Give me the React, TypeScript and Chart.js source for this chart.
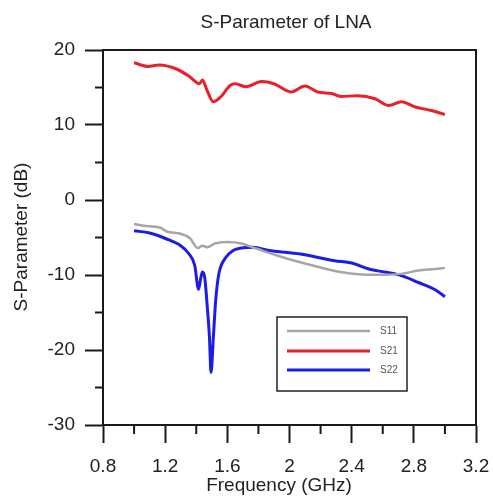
import React, { useEffect, useRef } from "react";
import { Chart, registerables } from "chart.js";

Chart.register(...registerables);

// ---- data ----
const s11Freq = [1.0, 1.05, 1.1, 1.17, 1.21, 1.3, 1.36, 1.41, 1.44, 1.47, 1.52, 1.6, 1.69, 1.79, 1.92, 2.07, 2.2, 2.33, 2.5, 2.61, 2.72, 2.83, 2.94, 3.0];
const s11Db = [-3.2, -3.4, -3.5, -3.7, -4.2, -4.5, -5.1, -6.4, -6.1, -6.3, -5.8, -5.6, -5.8, -6.5, -7.4, -8.3, -9.0, -9.6, -9.95, -9.95, -9.85, -9.4, -9.2, -9.05];

const s21Freq = [1.0, 1.09, 1.16, 1.28, 1.36, 1.42, 1.44, 1.47, 1.51, 1.56, 1.62, 1.65, 1.72, 1.82, 1.9, 2.01, 2.1, 2.18, 2.27, 2.33, 2.44, 2.55, 2.64, 2.72, 2.81, 2.92, 3.0];
const s21Db = [18.3, 17.8, 18.0, 17.4, 16.4, 15.5, 16.0, 14.6, 13.1, 13.8, 15.3, 15.5, 15.1, 15.8, 15.5, 14.4, 15.2, 14.4, 14.2, 13.8, 13.9, 13.5, 12.6, 13.1, 12.4, 11.9, 11.4];

const s22Freq = [1.0, 1.1, 1.21, 1.3, 1.35, 1.39, 1.415, 1.43, 1.44, 1.455, 1.47, 1.485, 1.495, 1.51, 1.525, 1.545, 1.585, 1.64, 1.69, 1.77, 1.86, 2.07, 2.29, 2.4, 2.51, 2.61, 2.7, 2.83, 2.94, 3.0];
const s22Db = [-4.1, -4.4, -5.2, -6.1, -7.1, -8.7, -11.9, -10.3, -9.6, -10.4, -14.0, -18.3, -23.0, -18.3, -13.4, -9.9, -7.8, -6.7, -6.4, -6.3, -6.7, -7.2, -8.1, -8.4, -9.2, -9.6, -9.95, -11.0, -12.0, -12.9];

const seriesNames = ["S11", "S21", "S22"];

const xTickValues = [0.8, 1.2, 1.6, 2.0, 2.4, 2.8, 3.2];
const xTickLabels = ["0.8", "1.2", "1.6", "2", "2.4", "2.8", "3.2"];
const xMinorValues = [1.0, 1.4, 1.8, 2.2, 2.6, 3.0];
const yTickValues = [-30, -20, -10, 0, 10, 20];
const yTickLabels = ["-30", "-20", "-10", "0", "10", "20"];
const yMinorValues = [-25, -15, -5, 5, 15];

const chartTitle = "S-Parameter of LNA";
const xTitle = "Frequency (GHz)";
const yTitle = "S-Parameter (dB)";

const FONT = "'Liberation Sans', Arial, sans-serif";
const INK = "#1a1a1a";

const pts = (xs: number[], ys: number[]) => xs.map((x, i) => ({ x, y: ys[i] }));

const decorPlugin = {
  id: "decor",
  afterDraw(chart: any) {
    const { ctx, chartArea, scales } = chart;
    const { left, right, top, bottom } = chartArea;
    const x = scales.x;
    const y = scales.y;
    ctx.save();
    ctx.strokeStyle = INK;
    ctx.lineWidth = 2;
    // top & right frame
    ctx.beginPath();
    ctx.moveTo(left, top);
    ctx.lineTo(right, top);
    ctx.lineTo(right, bottom);
    ctx.stroke();
    // minor ticks
    ctx.beginPath();
    xMinorValues.forEach((v) => {
      const px = x.getPixelForValue(v);
      ctx.moveTo(px, bottom);
      ctx.lineTo(px, bottom + 9);
    });
    yMinorValues.forEach((v) => {
      const py = y.getPixelForValue(v);
      ctx.moveTo(left - 8, py);
      ctx.lineTo(left, py);
    });
    ctx.stroke();

    // titles
    ctx.fillStyle = "#222";
    ctx.font = `19px ${FONT}`;
    ctx.textAlign = "center";
    ctx.textBaseline = "middle";
    ctx.fillText(chartTitle, 286, 23);
    ctx.fillText(xTitle, 279, 486);
    ctx.save();
    ctx.translate(22, 237);
    ctx.rotate(-Math.PI / 2);
    ctx.fillText(yTitle, 0, 0);
    ctx.restore();

    // legend box
    const bx = 277, by = 317, bw = 130, bh = 74;
    ctx.fillStyle = "#fff";
    ctx.fillRect(bx, by, bw, bh);
    ctx.lineWidth = 1.5;
    ctx.strokeStyle = "#222";
    ctx.strokeRect(bx, by, bw, bh);
    const rows = [331, 351, 370];
    chart.data.datasets.forEach((ds: any, i: number) => {
      ctx.beginPath();
      ctx.strokeStyle = ds.borderColor;
      ctx.lineWidth = ds.borderWidth;
      ctx.moveTo(287, rows[i]);
      ctx.lineTo(370, rows[i]);
      ctx.stroke();
      ctx.fillStyle = "#555";
      ctx.font = `10px ${FONT}`;
      ctx.textAlign = "left";
      ctx.textBaseline = "middle";
      ctx.fillText(ds.label, 380, rows[i] + 0.5);
    });
    ctx.restore();
  },
};

export default function App() {
  const ref = useRef<HTMLCanvasElement | null>(null);
  useEffect(() => {
    if (!ref.current) return;
    const chart = new Chart(ref.current, {
      type: "line",
      data: {
        datasets: [
          { label: seriesNames[0], data: pts(s11Freq, s11Db), borderColor: "#a6a6a6", borderWidth: 2.5, pointRadius: 0, cubicInterpolationMode: "monotone", fill: false },
          { label: seriesNames[1], data: pts(s21Freq, s21Db), borderColor: "#e8202a", borderWidth: 3, pointRadius: 0, cubicInterpolationMode: "monotone", fill: false },
          { label: seriesNames[2], data: pts(s22Freq, s22Db), borderColor: "#1c1ce6", borderWidth: 3, pointRadius: 0, cubicInterpolationMode: "monotone", fill: false },
        ],
      },
      options: {
        responsive: false,
        animation: false,
        devicePixelRatio: 1,
        layout: { padding: { top: 50, left: 0, right: 17, bottom: 0 } },
        plugins: { legend: { display: false }, title: { display: false }, tooltip: { enabled: false } },
        scales: {
          x: {
            type: "linear",
            min: 0.8,
            max: 3.2,
            afterBuildTicks: (s: any) => { s.ticks = xTickValues.map((v) => ({ value: v })); },
            afterFit: (s: any) => { s.height = 73; s.paddingLeft = 0; s.paddingRight = 0; },
            ticks: {
              callback: (_v: any, i: number) => xTickLabels[i],
              font: { family: FONT, size: 19 },
              color: "#222",
              padding: 12,
              maxRotation: 0,
              autoSkip: false,
            },
            grid: { drawOnChartArea: false, drawTicks: true, tickLength: 18, tickWidth: 2, tickColor: INK },
            border: { display: true, color: INK, width: 2 },
          },
          y: {
            type: "linear",
            min: -30,
            max: 20,
            afterBuildTicks: (s: any) => { s.ticks = yTickValues.map((v) => ({ value: v })); },
            afterFit: (s: any) => { s.width = 103; s.paddingTop = 0; s.paddingBottom = 0; },
            ticks: {
              callback: (_v: any, i: number) => yTickLabels[i],
              font: { family: FONT, size: 19 },
              color: "#222",
              padding: 10,
              autoSkip: false,
            },
            grid: { drawOnChartArea: false, drawTicks: true, tickLength: 18, tickWidth: 2, tickColor: INK },
            border: { display: true, color: INK, width: 2 },
          },
        },
      },
      plugins: [decorPlugin],
    } as any);
    return () => chart.destroy();
  }, []);
  return (
    <div style={{ position: "fixed", left: 0, top: 0, width: 493, height: 498, background: "#fff" }}>
      <canvas ref={ref} width={493} height={498} style={{ display: "block", width: 493, height: 498 }} />
    </div>
  );
}
